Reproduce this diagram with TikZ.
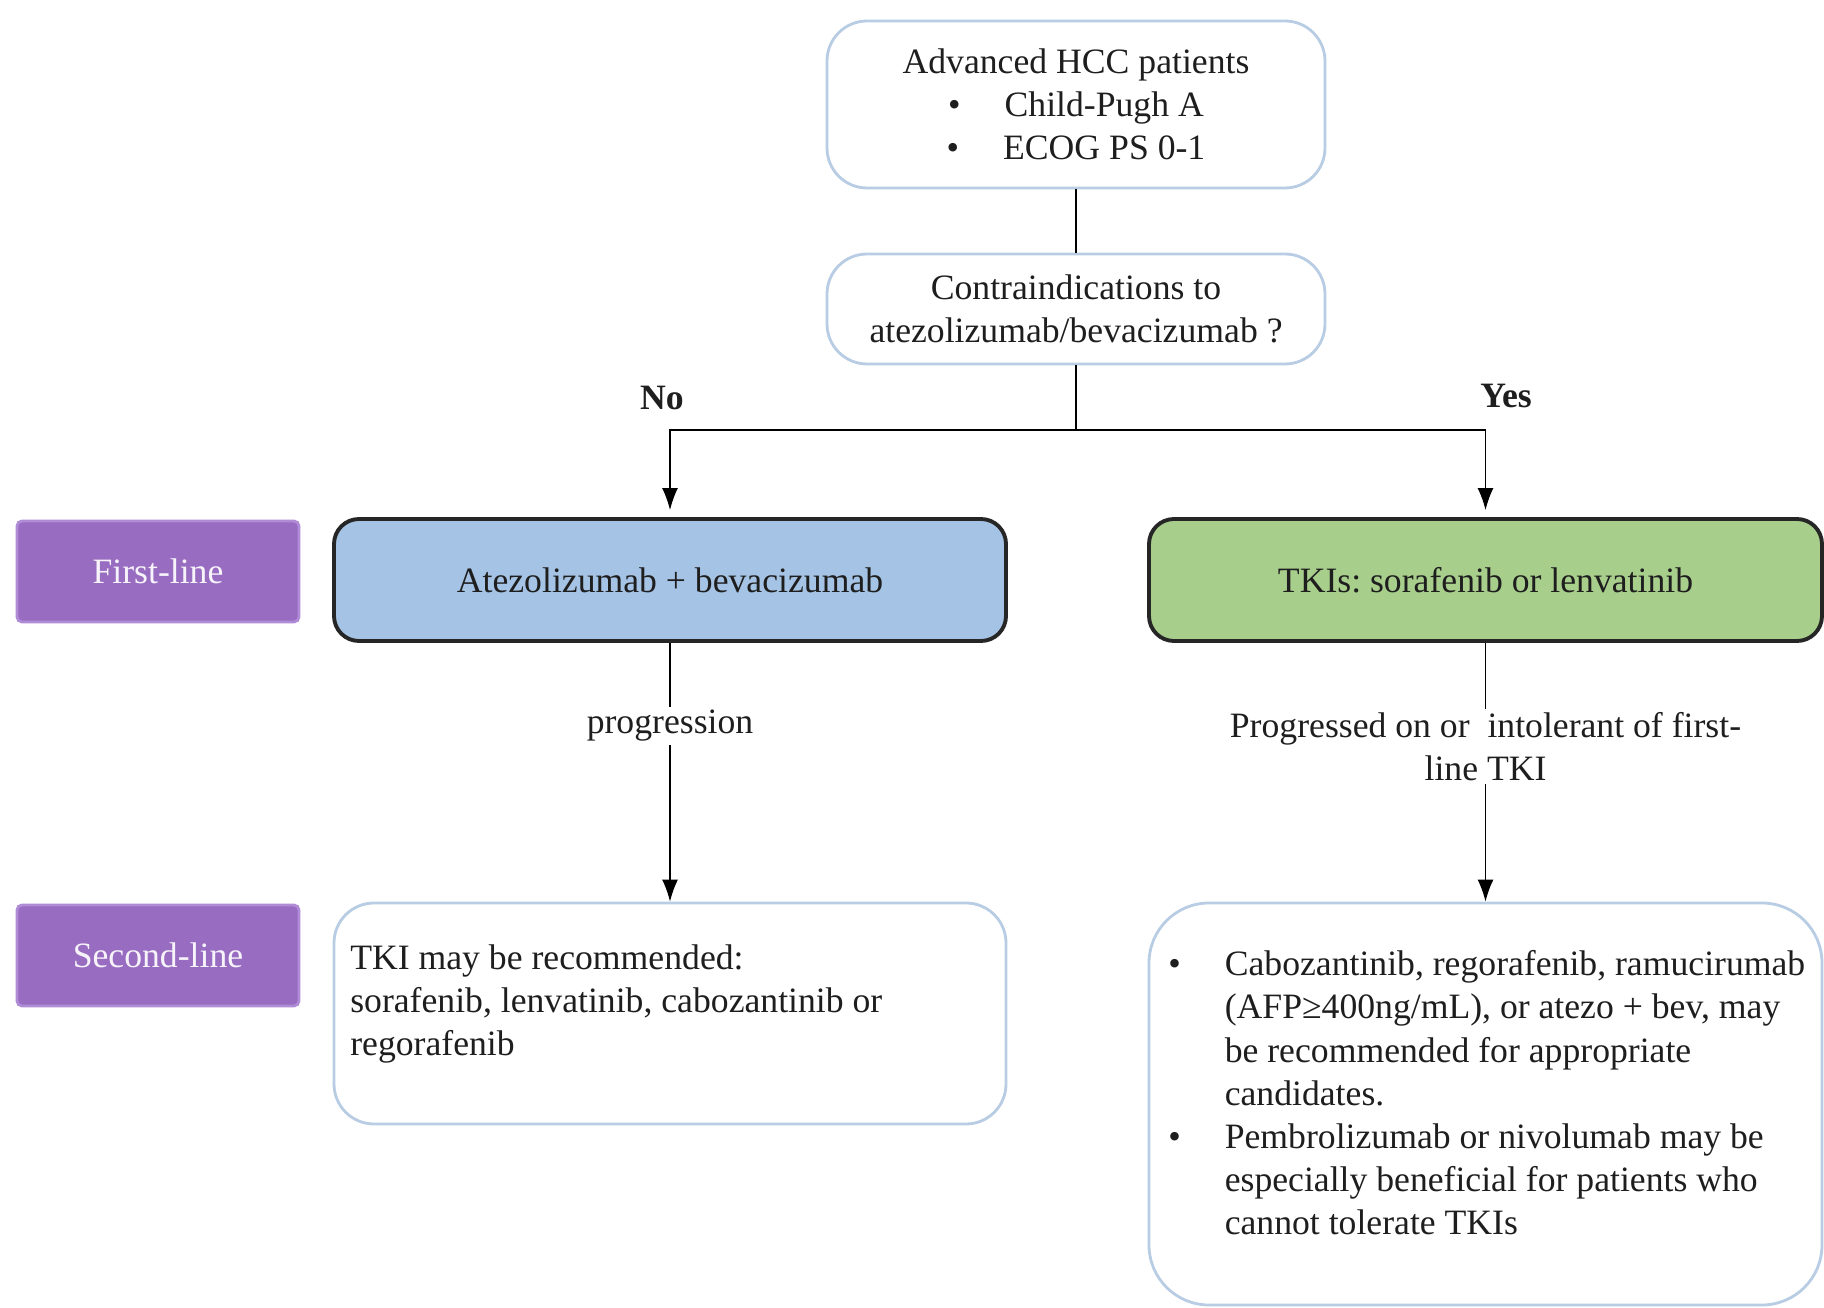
\documentclass[tikz,border=0pt]{standalone}
\usepackage{fontspec}
\setmainfont{Liberation Serif}
\usepackage{xcolor}
\usetikzlibrary{arrows.meta,positioning,calc}
\frenchspacing
\definecolor{txtgray}{RGB}{30,30,30}
\definecolor{boxline}{RGB}{184,204,228}
\definecolor{lineblue}{RGB}{165,195,228}
\definecolor{linegreen}{RGB}{168,206,140}
\definecolor{tagpurple}{RGB}{152,108,192}
\definecolor{tagedge}{RGB}{176,140,214}

\begin{document}
\begin{tikzpicture}[
    font=\fontsize{10.15}{12.3}\selectfont,
    text=txtgray,
    info/.style={draw=boxline, thick, rounded corners=4mm, fill=white, minimum width=4.98cm, align=center},
    tag/.style={draw=tagedge, thick, fill=tagpurple, text=white!92!tagpurple, minimum width=2.82cm, minimum height=1.01cm, rounded corners=0.5mm},
    therapy/.style={draw=black!85, line width=1.1pt, rounded corners=2.5mm, minimum width=6.72cm, minimum height=1.22cm},
    result/.style={draw=boxline, thick, fill=white, minimum width=6.72cm},
    cond/.style={fill=white, inner sep=1pt, align=center},
    flow/.style={-{Latex[length=2.2mm,width=1.6mm]}, thin},
    link/.style={thin}
]
\useasboundingbox (0,0) rectangle (18.24,-13.08);

% criteria
\node[info, minimum height=1.67cm] (hcc) at (10.76,-1.045)
  {Advanced HCC patients\\ \textbullet\hspace{4.4mm}Child-Pugh A\\ \textbullet\hspace{4.4mm}ECOG PS 0-1};
\node[info, minimum height=1.10cm] (contra) at (10.76,-3.09)
  {Contraindications to\\ atezolizumab/bevacizumab ?};
\coordinate (split) at (10.76,-4.30);

% first line
\node[tag] (first) at (1.58,-5.715) {First-line};
\node[therapy, fill=lineblue] (atezo) at (6.70,-5.80) {Atezolizumab + bevacizumab};
\node[therapy, fill=linegreen, minimum width=6.73cm] (tki) at (14.855,-5.80) {TKIs: sorafenib or lenvatinib};

% second line
\node[tag] (second) at (1.58,-9.555) {Second-line};
\node[result, rounded corners=4mm, minimum height=2.21cm] (left2) at (6.70,-10.135) {};
\node[anchor=north west, align=left, inner sep=0pt] (left2txt) at ($(left2.north west)+(0.17,-0.42)$)
  {TKI may be recommended:\\ sorafenib, lenvatinib, cabozantinib or\\ regorafenib};
\node[result, rounded corners=6mm, minimum width=6.73cm, minimum height=4.02cm] (right2) at (14.855,-11.04) {};
\node[anchor=north west, inner sep=0pt] (right2txt) at ($(right2.north west)+(0.20,-0.43)$)
  {\begin{tabular}{@{}l@{\hspace{4.4mm}}l@{}}
   \textbullet & Cabozantinib, regorafenib, ramucirumab\\
               & (AFP≥400ng/mL), or atezo + bev, may\\
               & be recommended for appropriate\\
               & candidates.\\
   \textbullet & Pembrolizumab or nivolumab may be\\
               & especially beneficial for patients who\\
               & cannot tolerate TKIs
   \end{tabular}};

\draw[link] (hcc) -- (contra);
\draw[link] (contra) -- (split);
\draw[flow] (split) -| ($(atezo.north)+(0,0.07)$);
\draw[flow] (split) -| ($(tki.north)+(0,0.07)$);
\node[font=\fontsize{10.15}{12.3}\selectfont\bfseries] (no) at (6.62,-3.98) {No};
\node[font=\fontsize{10.15}{12.3}\selectfont\bfseries] (yes) at (15.06,-3.96) {Yes};

\draw[flow] (atezo) -- (left2) node[cond, pos=0.32] (prog) {progression};
\draw[flow] (tki) -- (right2) node[cond, pos=0.40] (intol) {Progressed on or\ \ intolerant of first-\\ line TKI};
\end{tikzpicture}
\end{document}
